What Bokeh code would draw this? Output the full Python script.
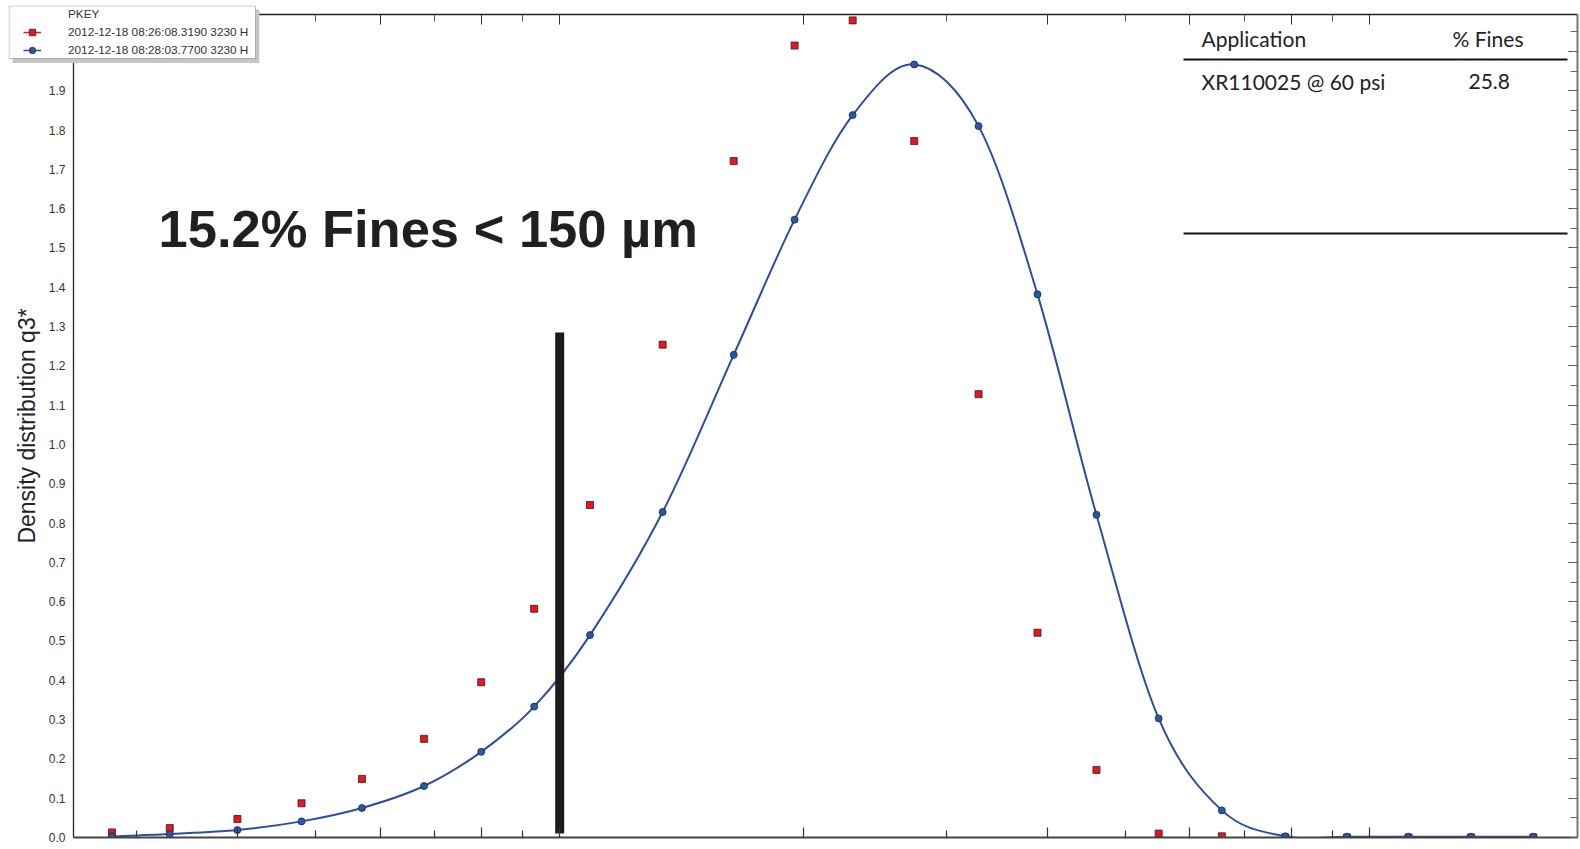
import math
from bokeh.plotting import figure
from bokeh.layouts import column
from bokeh.models import (FixedTicker, LogAxis, LinearAxis, SingleIntervalTicker, Legend,
                          LegendItem, Label, Arrow, BoxAnnotation, Range1d,
                          PrintfTickFormatter)
from bokeh.embed import file_html
from bokeh.resources import INLINE

# ---------------- data ----------------
size_um = [28, 33, 40, 48, 57, 68, 80, 93, 109, 134, 164, 195, 230, 274, 329,
           389, 460, 549, 657, 787, 938, 1117, 1334, 1593]
q3_run1 = [0.013, 0.024, 0.047, 0.087, 0.149, 0.251, 0.395, 0.582, 0.846, 1.254,
           1.721, 2.015, 2.079, 1.772, 1.128, 0.521, 0.172, 0.010, 0.003, 0.0,
           0.0, 0.0, 0.0, 0.0]
q3_run2 = [0.003, 0.009, 0.019, 0.041, 0.075, 0.131, 0.218, 0.333, 0.515, 0.828,
           1.228, 1.572, 1.838, 1.967, 1.810, 1.382, 0.821, 0.303, 0.069, 0.003,
           0.002, 0.002, 0.002, 0.002]
run1_label = "2012-12-18 08:26:08.3190 3230 H"
run2_label = "2012-12-18 08:28:03.7700 3230 H"
legend_title = "PKEY"

cutoff_size = [100]
cutoff_top = [1.285]
cutoff_bottom = [0.01]
cutoff_text = "15.2% Fines < 150 µm"

table_headers = ["Application", "% Fines"]
table_app = ["XR110025  @ 60 psi"]
table_fines = ["25.8"]

y_ticks = [0.0, 0.1, 0.2, 0.3, 0.4, 0.5, 0.6, 0.7, 0.8, 0.9, 1.0,
           1.1, 1.2, 1.3, 1.4, 1.5, 1.6, 1.7, 1.8, 1.9]
x_major_ticks = [40, 60, 80, 100, 200, 400, 600, 800, 1000]
x_minor_ticks = [30, 50, 70, 90, 300, 500, 700, 900]
y_axis_label = "Density distribution q3*"

RED = "#e3191f"
BLUE = "#2b4ea2"

# ---------------- main figure ----------------
p = figure(width=1580, height=849, x_axis_type="log",
           x_range=Range1d(25.1, 1806), y_range=Range1d(0, 2.094),
           output_backend="svg", toolbar_location=None,
           min_border_left=73, min_border_right=3, min_border_top=14,
           min_border_bottom=12)
p.background_fill_color = "white"
p.border_fill_color = "white"
p.outline_line_color = None
p.xgrid.visible = False
p.ygrid.visible = False

# left axis
ya = p.yaxis[0]
ya.ticker = FixedTicker(ticks=y_ticks)
ya.formatter = PrintfTickFormatter(format="%.1f")
ya.major_tick_in = 0
ya.major_tick_out = 0
ya.minor_tick_in = 0
ya.minor_tick_out = 0
ya.major_label_standoff = 8
ya.major_label_text_font = "Liberation Sans"
ya.major_label_text_font_size = "12px"
ya.major_label_text_color = "#333333"
ya.axis_line_color = "#222222"
ya.axis_line_width = 1.3
ya.axis_label = y_axis_label
ya.axis_label_text_font = "Liberation Sans"
ya.axis_label_text_font_style = "normal"
ya.axis_label_text_font_size = "23px"
ya.axis_label_text_color = "#222222"
ya.axis_label_standoff = 6

# bottom axis (labels fall off the page in the original)
xa = p.xaxis[0]
xa.ticker = FixedTicker(ticks=x_major_ticks, minor_ticks=x_minor_ticks)
xa.major_tick_in = 10
xa.major_tick_out = 0
xa.minor_tick_in = 7
xa.minor_tick_out = 0
xa.major_tick_line_color = "#333333"
xa.minor_tick_line_color = "#333333"
xa.major_tick_line_width = 1.2
xa.minor_tick_line_width = 1.2
xa.axis_line_color = "#444444"
xa.axis_line_width = 2
xa.major_label_text_font_size = "0px"
xa.major_label_standoff = 0

# top axis
ta = LogAxis(ticker=FixedTicker(ticks=x_major_ticks, minor_ticks=x_minor_ticks))
ta.major_tick_in = 10
ta.major_tick_out = 0
ta.minor_tick_in = 7
ta.minor_tick_out = 0
ta.major_tick_line_color = "#333333"
ta.minor_tick_line_color = "#555555"
ta.axis_line_color = "#222222"
ta.axis_line_width = 1.3
ta.major_label_text_font_size = "0px"
ta.major_label_standoff = 0
p.add_layout(ta, "above")

# right axis
ra = LinearAxis(ticker=SingleIntervalTicker(interval=0.1, num_minor_ticks=2))
ra.major_tick_in = 9
ra.major_tick_out = 0
ra.minor_tick_in = 7
ra.minor_tick_out = 0
ra.major_tick_line_color = "#444444"
ra.minor_tick_line_color = "#666666"
ra.axis_line_color = "#777777"
ra.axis_line_width = 2
ra.major_label_text_font_size = "0px"
ra.major_label_standoff = 0
p.add_layout(ra, "right")

# ---------------- glyphs ----------------
p.scatter(size_um, q3_run1, marker="square", size=7,
          fill_color=RED, line_color="#3d1518", line_width=0.8)

# smooth curve through the blue points (Catmull-Rom as cubic Bezier segments,
# computed in log-x space so it is smooth on screen)
lx = [math.log10(v) for v in size_um]
n = len(size_um)
bx0, by0, bx1, by1, c0x, c0y, c1x, c1y = [], [], [], [], [], [], [], []
for i in range(n - 1):
    im1 = max(i - 1, 0)
    ip2 = min(i + 2, n - 1)
    bx0.append(size_um[i]); by0.append(q3_run2[i])
    bx1.append(size_um[i + 1]); by1.append(q3_run2[i + 1])
    c0x.append(10 ** (lx[i] + (lx[i + 1] - lx[im1]) / 6))
    c0y.append(q3_run2[i] + (q3_run2[i + 1] - q3_run2[im1]) / 6)
    c1x.append(10 ** (lx[i + 1] - (lx[ip2] - lx[i]) / 6))
    c1y.append(q3_run2[i + 1] - (q3_run2[ip2] - q3_run2[i]) / 6)
p.bezier(x0=bx0, y0=by0, x1=bx1, y1=by1, cx0=c0x, cy0=c0y, cx1=c1x, cy1=c1y,
         line_color=BLUE, line_width=2)
p.scatter(size_um, q3_run2, marker="circle", size=7,
          fill_color="#2a58a8", line_color="#1b2540", line_width=0.8)

# cutoff bar
p.segment(x0=cutoff_size, y0=cutoff_bottom, x1=cutoff_size, y1=cutoff_top,
          line_width=9, line_color="#1c1c1c")

# big annotation text
p.add_layout(Label(x=85, y=609, x_units="screen", y_units="screen", text=cutoff_text,
                   text_font="Liberation Sans", text_font_style="bold",
                   text_font_size="52.5px", text_color="#231f20",
                   text_baseline="middle", text_align="left"))

# table
tfont = "Lato"
for txt, xx, yy in [(table_headers[0], 1128, 799), (table_headers[1], 1379, 799),
                    (table_app[0], 1128, 756), (table_fines[0], 1395, 756)]:
    p.add_layout(Label(x=xx, y=yy, x_units="screen", y_units="screen", text=txt,
                       text_font=tfont, text_font_size="21px", text_color="#222222",
                       text_baseline="alphabetic"))
for yy in (778, 604):
    p.add_layout(Arrow(start=None, end=None, x_start=1110, y_start=yy, x_end=1494, y_end=yy,
                       start_units="screen", end_units="screen",
                       line_width=2, line_color="#111111"))

# ---------------- legend (small overlay figure, top-left of page) ----------------
lf = figure(width=327, height=58, x_range=Range1d(0, 251), y_range=Range1d(0, 58),
            output_backend="svg", toolbar_location=None,
            min_border_left=73, min_border_right=3, min_border_top=0,
            min_border_bottom=0, x_axis_location=None, y_axis_location=None)
lf.outline_line_color = None
lf.background_fill_alpha = 0
lf.border_fill_alpha = 0
lf.xgrid.visible = False
lf.ygrid.visible = False
# drop shadow and box of the legend
lf.add_layout(BoxAnnotation(left=4, right=251, bottom=0, top=54,
                            fill_color="#c6c6c6", fill_alpha=1, line_color=None))
lf.add_layout(BoxAnnotation(left=0.5, right=247, bottom=5, top=57.5,
                            fill_color="white", fill_alpha=1,
                            line_color="#333333", line_width=1))
# legend-only renderers: one point each, placed outside the visible range
off_x = [-1000]
off_y = [-1000]
t_dummy = lf.line(x=off_x, y=off_y, line_alpha=0)
r1_line = lf.line(x=off_x, y=off_y, line_color=RED, line_width=1.5)
r1_pts = lf.scatter(x=off_x, y=off_y, marker="square", size=7, fill_color=RED,
                    line_color="#3d1518", line_width=0.8)
r2_line = lf.line(x=off_x, y=off_y, line_color=BLUE, line_width=1.5)
r2_pts = lf.scatter(x=off_x, y=off_y, marker="circle", size=7, fill_color="#2a58a8",
                    line_color="#1b2540", line_width=0.8)
legend = Legend(items=[
    LegendItem(label=legend_title, renderers=[t_dummy]),
    LegendItem(label=run1_label, renderers=[r1_line, r1_pts]),
    LegendItem(label=run2_label, renderers=[r2_line, r2_pts]),
], location=(15, 5), padding=0, spacing=2, label_height=16, glyph_height=16,
    glyph_width=18, label_standoff=27, margin=0,
    label_text_font="Liberation Sans", label_text_font_size="11.8px",
    label_text_color="#333333", border_line_color=None,
    background_fill_alpha=0)
lf.add_layout(legend, "center")
lf.styles = {"position": "absolute", "left": "-65px", "top": "5px", "z-index": "5"}

layout = column(p, lf)
open("out.html", "w").write(file_html(layout, INLINE))
